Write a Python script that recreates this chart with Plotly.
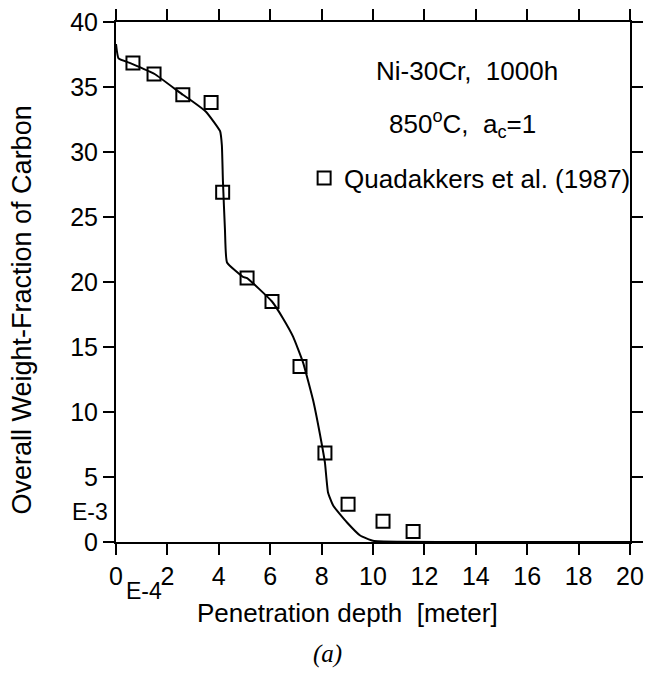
import plotly.graph_objects as go

# Measured data (Quadakkers et al. 1987)
depth_data = [0.66, 1.48, 2.6, 3.7, 4.15, 5.1, 6.07, 7.16, 8.13, 9.03, 10.39, 11.56]
carbon_data = [36.85, 36.0, 34.4, 33.8, 26.9, 20.3, 18.5, 13.5, 6.85, 2.9, 1.6, 0.8]

# Model curve
depth_model = [0, 0.1, 0.6, 1.5, 2.6, 2.9, 3.5, 4.05, 4.12, 4.16, 4.24, 4.32, 4.94, 5.1,
               6.07, 6.5, 6.89, 7.28, 7.67, 8.0, 8.13, 8.25, 8.45, 8.99, 9.5, 10.0, 11.0, 14.0, 20.0]
carbon_model = [38.3, 37.2, 36.8, 36.0, 34.4, 34.0, 33.1, 31.6, 30.5, 27.8, 24.0, 21.5, 20.4, 20.3,
                18.5, 17.2, 15.8, 13.8, 10.9, 7.6, 6.1, 3.8, 2.8, 1.5, 0.5, 0.1, 0.02, 0.0, 0.0]

x_ticks = [0, 2, 4, 6, 8, 10, 12, 14, 16, 18, 20]
y_ticks = [0, 5, 10, 15, 20, 25, 30, 35, 40]

FONT = "Liberation Sans, Arial, Helvetica, sans-serif"

fig = go.Figure()
fig.add_trace(go.Scatter(x=depth_model, y=carbon_model, mode="lines",
                         line=dict(color="black", width=2, shape="spline", smoothing=0.4),
                         showlegend=False))
fig.add_trace(go.Scatter(x=depth_data, y=carbon_data, mode="markers",
                         name="Quadakkers et al. (1987)",
                         marker=dict(symbol="square-open", size=13, color="black",
                                     line=dict(width=2, color="black"))))

axis_common = dict(showgrid=False, zeroline=False, showline=True, linecolor="black",
                   linewidth=2, mirror="ticks", ticks="outside", ticklen=11,
                   tickwidth=2, tickcolor="black", automargin=False,
                   ticklabeloverflow="allow",
                   tickfont=dict(family=FONT, size=25, color="black"))

fig.update_xaxes(range=[0, 20], tickvals=x_ticks, **axis_common)
fig.update_yaxes(range=[0, 40], tickvals=y_ticks, **axis_common)

def ann(text, x, y, size=26, ref="paper", angle=0, family=FONT):
    return dict(text=text, x=x, y=y, xref="x" if ref == "data" else "paper",
                yref="y" if ref == "data" else "paper", xanchor="center", yanchor="middle",
                textangle=angle, showarrow=False,
                font=dict(family=family, size=size, color="black"))

anns = [
    ann("Ni-30Cr,\u00a0\u00a01000h", 13.66, 36.25, ref="data"),
    ann("850<sup>o</sup>C,\u00a0\u00a0a<sub>c</sub>=1", 13.5, 32.15, ref="data"),
    ann("Penetration depth\u00a0\u00a0[meter]", 0.451, -0.137),
    ann("Overall Weight-Fraction of Carbon", -0.183, 0.447, size=27, angle=-90),
    ann("E-3", -0.051, 0.058, size=23),
    ann("E-4", 0.054, -0.094, size=23),
    ann("<i>(a)</i>", 0.412, -0.215, size=25,
        family="Liberation Serif, Times New Roman, serif"),
]

fig.update_layout(
    width=645, height=673,
    margin=dict(l=116, r=15, t=22, b=131, autoexpand=False),
    plot_bgcolor="white", paper_bgcolor="white",
    showlegend=True,
    legend=dict(x=0.366, y=0.70, xanchor="left", yanchor="middle",
                bgcolor="rgba(0,0,0,0)", borderwidth=0,
                font=dict(family=FONT, size=26, color="black"),
                itemsizing="trace"),
    annotations=anns,
)

fig.write_html("out.html", config={"displayModeBar": False},
               post_script="document.body.style.margin='0';document.body.style.overflow='hidden';")
